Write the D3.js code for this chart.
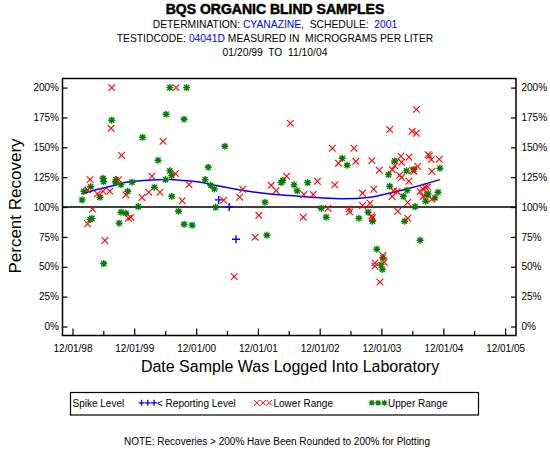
<!DOCTYPE html>
<html><head><meta charset="utf-8">
<script src="https://cdn.jsdelivr.net/npm/d3@7/dist/d3.min.js"></script>
<style>
body{margin:0;background:#fff;}
svg{display:block;font-family:"Liberation Sans",Arial,sans-serif;}
</style></head>
<body>
<svg id="c" width="550" height="450"></svg>
<script>
// ---------- DATA (decimal year, percent recovery) ----------
const lowerRange = [
 [1999.55,200],[2000.59,200],[1999.54,166],[2000.38,155],[1999.71,143.3],[2000.58,128],
 [2000.20,125.8],[1999.20,123],[1999.66,123],[2000.80,118.8],[1999.16,114.4],[1999.32,111],
 [1999.41,113.2],[1999.52,113.2],[1999.78,110.2],[2000.15,112.4],[2000.33,112.4],[2000.04,108],
 [2000.69,105.3],[1999.24,98.3],[1999.16,86],[1999.44,72],[1999.82,90.6],[1999.86,91.4],
 [2002.44,170],[2003.12,149.2],[2003.47,149.2],[2003.22,136.7],[2003.50,138.3],[2002.38,125.8],
 [2002.88,121.6],[2002.13,118.2],[2002.21,113.8],[2001.67,114.9],[2001.62,108.2],[2003.16,118.6],
 [2003.61,111.5],[2002.66,110.5],[2002.81,110.5],[2001.36,105.7],[2003.05,99],[2003.39,98.5],
 [2003.40,96],[2003.61,101.3],[2001.93,93.1],[2002.65,91.5],[2001.87,74.7],[2001.53,41.8],
 [2004.48,181.8],[2004.05,164.9],[2004.41,163.4],[2004.48,161.8],[2004.67,143.9],[2004.69,142.8],
 [2004.72,139.7],[2004.85,140],[2003.76,138.9],[2004.23,142.5],[2004.36,141.7],[2004.24,137.5],
 [2004.13,134.5],[2004.09,131.4],[2003.88,130.8],[2004.50,134.1],[2004.42,130.8],[2004.44,130],
 [2004.73,130],[2004.21,126.6],[2004.24,124.7],[2004.36,121.6],[2003.79,114.9],[2004.11,113.6],
 [2004.17,113],[2004.54,113],[2004.58,115.2],[2004.62,116.6],[2004.66,116.9],[2004.09,108.8],
 [2004.59,108.8],[2004.73,106.5],[2004.34,103.8],[2003.73,103.2],[2004.18,96.5],[2003.76,92.6],
 [2003.77,91],[2004.34,90.6],[2003.94,59.4],[2003.81,53.3],[2003.81,50.5],[2003.96,53.8],
 [2003.89,37.1]
];
const upperRange = [
 [2000.49,200],[2000.76,200],[1999.55,172.7],[2000.43,177.7],[2000.72,173.5],[2000.05,158.4],
 [2000.30,139.2],[2001.11,133.3],[2000.49,130.3],[2000.52,126.4],[1999.41,124.1],[1999.42,121.3],
 [1999.62,123],[1999.61,121],[2000.42,123],[2001.06,123],[1999.88,120.8],[1999.70,118.8],
 [2001.15,118.2],[2001.21,115.2],[2000.24,116.6],[1999.21,117],[1999.10,113.2],[1999.81,113.2],
 [1999.36,108.2],[2000.52,109],[1999.07,106],[1999.98,100.4],[2001.23,99.8],[1999.20,89.5],
 [1999.23,90.5],[1999.42,52.7],[1999.70,95.7],[1999.78,94.8],[1999.67,86.5],[2000.63,96.5],
 [2000.72,85.6],[2000.85,84.8],
 [2001.38,150.9],[2003.28,140.8],[2003.36,135],[2002.32,122.2],[2002.29,120.5],[2002.50,118.6],
 [2002.72,120.5],[2002.55,113.6],[2002.03,104],[2002.94,99],[2003.70,95.7],[2003.02,91.5],
 [2003.55,90.6],[2002.06,76.4],
 [2004.13,138.6],[2004.44,131.6],[2004.32,130.3],[2004.86,132.5],[2004.03,127.2],[2004.05,117.4],
 [2004.33,114.1],[2004.83,112.4],[2004.65,110.2],[2004.67,111],[2004.27,109],[2004.78,107.7],
 [2004.63,104.9],[2004.46,100.4],[2003.77,88.1],[2004.29,88.1],[2004.54,72.2],[2003.84,64.7],
 [2003.94,57.5],[2003.91,51.6],[2003.93,47.7]
];
const reportingLevel = [[2001.28,106],[2001.45,100],[2001.56,73]];
const smoothLine = [
 [1999.06,111],[1999.41,116],[1999.52,117.2],[1999.79,120.8],[2000.06,122.2],[2000.50,123],
 [2000.71,122.2],[2000.98,120.8],[2001.25,118],[2001.47,115.7],[2001.79,113],[2002.11,111],
 [2002.44,109.6],[2002.92,107.7],[2003.30,106.9],[2003.73,108.2],[2004.11,112.4],[2004.43,116.6],
 [2004.86,123]
];
const yTicks = [0,25,50,75,100,125,150,175,200];
const majorTickYears = [1998,1999,2000,2001,2002,2003,2004,2005]; // Dec 1
const minorTickYears = [1999,2000,2001,2002,2003,2004,2005];      // Jun 1
const spikeLevel = 100;

// ---------- LAYOUT ----------
const svg = d3.select("#c");
const L = 62.5, R = 516, T = 78.5, B = 335.5;
const RED = "#ff0000", GREEN = "#008000", BLUE = "#0000ff";

function yearToDate(v){
  const Y = Math.floor(v), s = new Date(Y,0,1), e = new Date(Y+1,0,1);
  return new Date(+s + (v - Y)*(e - s));
}
const x = d3.scaleTime().domain([new Date(1998,11,1), new Date(2005,11,1)]).range([72.5,505.1]);
const y = d3.scaleLinear().domain([0,200]).range([326.5,87.6]);

// ---------- TITLES ----------
const t = svg.append("g").attr("text-anchor","middle");
t.append("text").attr("x",275).attr("y",13.5).attr("font-size",14).attr("font-weight","bold")
 .attr("stroke","#000").attr("stroke-width",0.5).text("BQS ORGANIC BLIND SAMPLES");
const l2 = t.append("text").attr("x",275).attr("y",28).attr("font-size",10.3).attr("xml:space","preserve");
l2.append("tspan").text("DETERMINATION: ");
l2.append("tspan").attr("fill",BLUE).text("CYANAZINE,");
l2.append("tspan").text("  SCHEDULE:  ");
l2.append("tspan").attr("fill",BLUE).text("2001");
const l3 = t.append("text").attr("x",275).attr("y",42.3).attr("font-size",10.3).attr("xml:space","preserve");
l3.append("tspan").text("TESTIDCODE: ");
l3.append("tspan").attr("fill",BLUE).text("04041D");
l3.append("tspan").text(" MEASURED IN  MICROGRAMS PER LITER");
t.append("text").attr("x",275).attr("y",56.3).attr("font-size",10.3).attr("xml:space","preserve")
 .text("01/20/99  TO  11/10/04");

// ---------- AXES ----------
const fmt = d3.timeFormat("%m/%d/%y");
const gx = svg.append("g").attr("transform",`translate(0,${B})`)
 .call(d3.axisBottom(x).tickValues(majorTickYears.map(yy=>new Date(yy,11,1)))
   .tickSizeInner(-7).tickSizeOuter(0).tickPadding(9).tickFormat(fmt));
const gx2 = svg.append("g").attr("transform",`translate(0,${B})`)
 .call(d3.axisBottom(x).tickValues(minorTickYears.map(yy=>new Date(yy,5,1)))
   .tickSizeInner(-4.5).tickSizeOuter(0).tickFormat(""));
const gyl = svg.append("g").attr("transform",`translate(${L},0)`)
 .call(d3.axisLeft(y).tickValues(yTicks).tickSizeInner(-5).tickSizeOuter(0).tickPadding(3.5).tickFormat(d=>d+"%"));
const gyr = svg.append("g").attr("transform",`translate(${R},0)`)
 .call(d3.axisRight(y).tickValues(yTicks).tickSizeInner(-5).tickSizeOuter(0).tickPadding(5.5).tickFormat(d=>d+"%"));
[gx,gx2,gyl,gyr].forEach(g=>{
  g.select(".domain").remove();
  g.selectAll("line").attr("stroke","#000").attr("stroke-width",1.2);
  g.selectAll("text").attr("font-size",10).attr("fill","#000")
   .attr("font-family",'"Liberation Sans",Arial,sans-serif');
});

// frame
svg.append("rect").attr("x",L).attr("y",T).attr("width",R-L).attr("height",B-T)
 .attr("fill","none").attr("stroke","#000").attr("stroke-width",1.5);

// axis titles
svg.append("text").attr("transform","translate(20.5,206) rotate(-90)").attr("text-anchor","middle")
 .attr("font-size",17).text("Percent Recovery");
svg.append("text").attr("x",290).attr("y",372).attr("text-anchor","middle")
 .attr("font-size",16).text("Date Sample Was Logged Into Laboratory");

// spike (100%) line
svg.append("line").attr("x1",L).attr("x2",R).attr("y1",y(spikeLevel)).attr("y2",y(spikeLevel))
 .attr("stroke","#000").attr("stroke-width",1.6);

// smooth line
svg.append("path").datum(smoothLine)
 .attr("d",d3.line().x(d=>x(yearToDate(d[0]))).y(d=>y(d[1])).curve(d3.curveMonotoneX))
 .attr("fill","none").attr("stroke",BLUE).attr("stroke-width",1.5);

// ---------- MARKERS ----------
const P_X = "M-3.3,-3.3L3.3,3.3M-3.3,3.3L3.3,-3.3";
const P_STAR = "M0,-3.5V3.5M-3.5,0H3.5M-2.6,-2.6L2.6,2.6M-2.6,2.6L2.6,-2.6";
const P_PLUS = "M-4,0H4M0,-4V4";
function plot(data, path, color, sw){
  svg.append("g").selectAll("path").data(data).join("path")
   .attr("transform",d=>`translate(${x(yearToDate(d[0]))},${y(d[1])})`)
   .attr("d",path).attr("fill","none").attr("stroke",color).attr("stroke-width",sw);
}
plot(upperRange, P_STAR, GREEN, 1.4);
plot(lowerRange, P_X, RED, 1.1);
plot(reportingLevel, P_PLUS, BLUE, 1.4);

// ---------- LEGEND ----------
const lg = svg.append("g");
lg.append("rect").attr("x",70.5).attr("y",392.5).attr("width",408).attr("height",22.5)
 .attr("fill","none").attr("stroke","#000").attr("stroke-width",1.2);
const ly = 406.8, sy = 402.8;
lg.append("text").attr("x",72.5).attr("y",ly).attr("font-size",10).text("Spike Level");
function legSyms(cx, path, color, sw){
  [0,1,2].forEach(i=>lg.append("path").attr("transform",`translate(${cx+i*6.3},${sy})`)
    .attr("d",path).attr("fill","none").attr("stroke",color).attr("stroke-width",sw));
}
legSyms(141.5, "M-3,0H3M0,-3V3", BLUE, 1.3);
lg.append("text").attr("x",157).attr("y",ly).attr("font-size",10).text("< Reporting Level");
legSyms(256.8, "M-2.8,-2.8L2.8,2.8M-2.8,2.8L2.8,-2.8", RED, 1);
lg.append("text").attr("x",273.5).attr("y",ly).attr("font-size",10).text("Lower Range");
legSyms(371.8, "M0,-3V3M-3,0H3M-2.2,-2.2L2.2,2.2M-2.2,2.2L2.2,-2.2", GREEN, 1.2);
lg.append("text").attr("x",388).attr("y",ly).attr("font-size",10).text("Upper Range");

// note
svg.append("text").attr("x",277).attr("y",445).attr("text-anchor","middle").attr("font-size",10)
 .text("NOTE: Recoveries > 200% Have Been Rounded to 200% for Plotting");
</script>
</body></html>
